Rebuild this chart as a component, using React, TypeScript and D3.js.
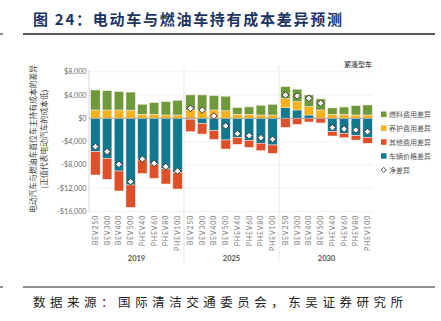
import React from "react";
import * as d3 from "d3";

const years = ["2019", "2025", "2030"];
const categories = ["BEV250", "BEV300", "BEV400", "BEV500", "PHEV40", "PHEV60", "PHEV80", "PHEV100"];

// 燃料费用差异 (green)
const fuel = [
  [3430, 3310, 3150, 3100, 1720, 1990, 2290, 2520],
  [2580, 2580, 2470, 2490, 1150, 1260, 1660, 1830],
  [1990, 2130, 2010, 1890, 1100, 1250, 1600, 1720],
];
// 养护费用差异 (orange)
const maintenance = [
  [1430, 1430, 1430, 1400, 690, 690, 570, 570],
  [1430, 1430, 1430, 1300, 690, 690, 570, 570],
  [1610, 1430, 1430, 1430, 690, 690, 570, 570],
];
// 其他费用差异 (red)
const other = [
  [-4000, -3600, -3430, -3830, -2290, -2400, -2580, -2800],
  [-2140, -1800, -1490, -1550, -1150, -1200, -1260, -1430],
  [-1550, -1030, -630, -750, -740, -750, -740, -1030],
];
// 车辆价格差异 (teal)
const vehicle = [
  [-5730, -6870, -9050, -11450, -7160, -7900, -8700, -9340],
  [-150, -900, -2120, -3720, -3320, -3780, -4290, -4580],
  [1820, 1430, 570, -50, -2300, -2580, -2990, -3260],
];
// 净差异
const net = [
  [-4870, -5730, -7900, -10880, -6990, -7730, -8300, -9050],
  [1720, 1430, 400, -1320, -2640, -2990, -3330, -3610],
  [4000, 3830, 3430, 2580, -1600, -1840, -2000, -2290],
];

const yTicks = [8000, 4000, 0, -4000, -8000, -12000, -16000];

const seriesKeys = ["vehicle", "maintenance", "other", "fuel"];
const seriesColors: Record<string, string> = {
  fuel: "#6f9a3c",
  maintenance: "#f4b21c",
  other: "#df4f2a",
  vehicle: "#11798f",
};
const legendItems = [
  { key: "fuel", label: "燃料费用差异" },
  { key: "maintenance", label: "养护费用差异" },
  { key: "other", label: "其他费用差异" },
  { key: "vehicle", label: "车辆价格差异" },
  { key: "net", label: "净差异" },
];

const W = 441;
const H = 321;
const latin = "Lato, 'Open Sans', sans-serif";
const cjk = "'Noto Sans CJK SC', sans-serif";

export default function App() {
  const rows: any[] = [];
  years.forEach((yr, gi) => {
    categories.forEach((c, ci) => {
      rows.push({
        year: yr,
        cat: c,
        fuel: fuel[gi][ci],
        maintenance: maintenance[gi][ci],
        other: other[gi][ci],
        vehicle: vehicle[gi][ci],
        net: net[gi][ci],
      });
    });
  });

  const plotLeft = 89;
  const plotRight = 374;
  const y = d3.scaleLinear().domain([-16000, 8000]).range([211.5, 71.7]);
  const xGroup = d3.scaleBand<string>().domain(years).range([plotLeft, plotRight]);
  const xInner = d3
    .scaleBand<string>()
    .domain(categories)
    .range([0, xGroup.bandwidth()])
    .paddingInner(0.2)
    .paddingOuter(0.15);

  const stack = d3
    .stack<any>()
    .keys(seriesKeys)
    .offset(d3.stackOffsetDiverging)
    .order(d3.stackOrderNone);
  const stacked = stack(rows);

  const xOf = (r: any) => (xGroup(r.year) as number) + (xInner(r.cat) as number);
  const bw = xInner.bandwidth();
  const diamondType = (d3 as any).symbolDiamond2 || d3.symbolDiamond;
  const diamond = d3.symbol().type(diamondType).size(28)() as string;
  const diamondSmall = d3.symbol().type(diamondType).size(16)() as string;
  const fmt = (v: number) => (v < 0 ? "-$" : "$") + d3.format(",")(Math.abs(v));

  return (
    <svg width={W} height={H} style={{ position: "absolute", left: 0, top: 0, background: "#fff" }}>
      {/* Title */}
      <text
        x={33}
        y={25}
        fontFamily={cjk}
        fontWeight={700}
        fontSize={15}
        fill="#1c3463"
        textLength={309}
        lengthAdjust="spacing"
      >
        图 24：电动车与燃油车持有成本差异预测
      </text>
      <line x1={23} x2={435} y1={34} y2={34} stroke="#222" strokeWidth={1.5} />
      <line x1={0} x2={3} y1={34} y2={34} stroke="#222" strokeWidth={1} />

      {/* Grid */}
      {yTicks.map((t) => (
        <line
          key={"g" + t}
          x1={plotLeft}
          x2={plotRight - 1}
          y1={y(t)}
          y2={y(t)}
          stroke="#dcdcdc"
          strokeWidth={0.7}
          strokeDasharray="1.5,1.5"
        />
      ))}
      {/* axis & separators */}
      <line x1={plotLeft} x2={plotLeft} y1={70} y2={213} stroke="#cfcfcf" strokeWidth={0.8} />
      {years.slice(1).map((yr) => (
        <line
          key={"s" + yr}
          x1={xGroup(yr)}
          x2={xGroup(yr)}
          y1={66}
          y2={262}
          stroke="#e2e2e2"
          strokeWidth={0.8}
        />
      ))}

      {/* Y tick labels */}
      {yTicks.map((t) => (
        <text
          key={"t" + t}
          x={86.5}
          y={y(t) + 2.5}
          textAnchor="end"
          fontFamily={latin}
          fontSize={7.2}
          fill="#6a6a6a"
        >
          {fmt(t)}
        </text>
      ))}

      {/* Y axis title */}
      <g transform={`translate(36,139) rotate(-90)`}>
        <text textAnchor="middle" fontFamily={cjk} fontSize={7.8} fill="#444">
          电动汽车与燃油车首位车主持有成本的差异
        </text>
        <text y={11} textAnchor="middle" fontFamily={cjk} fontSize={7.8} fill="#444">
          (正值代表电动汽车的成本低)
        </text>
      </g>

      {/* Bars */}
      {stacked.map((s) =>
        s.map((d, i) => {
          const r = rows[i];
          const y0 = y(d[0]);
          const y1 = y(d[1]);
          const h = Math.abs(y0 - y1);
          if (h < 0.05) return null;
          return (
            <rect
              key={s.key + i}
              x={xOf(r)}
              y={Math.min(y0, y1)}
              width={bw}
              height={h}
              fill={seriesColors[s.key]}
              stroke="#fbe9e4"
              strokeWidth={0.5}
            />
          );
        })
      )}

      {/* zero line */}
      <line x1={plotLeft} x2={plotRight - 1} y1={y(0)} y2={y(0)} stroke="#a0a0a0" strokeWidth={1} />

      {/* Net markers */}
      {rows.map((r, i) => (
        <path
          key={"n" + i}
          d={diamond}
          transform={`translate(${xOf(r) + bw / 2},${y(r.net)})`}
          fill="#fff"
          stroke="#3a3a3a"
          strokeWidth={1}
        />
      ))}

      {/* X labels */}
      {rows.map((r, i) => (
        <text
          key={"x" + i}
          transform={`translate(${xOf(r) + bw / 2 + 2.5},215) rotate(-90)`}
          textAnchor="end"
          fontFamily={latin}
          fontSize={7}
          letterSpacing={0.8}
          fill="#7a7a7a"
        >
          {r.cat}
        </text>
      ))}

      {/* Year labels */}
      {years.map((yr) => (
        <text
          key={"y" + yr}
          x={(xGroup(yr) as number) + xGroup.bandwidth() / 2}
          y={261}
          textAnchor="middle"
          fontFamily={latin}
          fontWeight={700}
          fontSize={7.5}
          fill="#555"
        >
          {yr}
        </text>
      ))}

      {/* Subtitle top right */}
      <text x={372} y={67} textAnchor="end" fontFamily={cjk} fontSize={7} fontWeight={500} fill="#444">
        紧凑型车
      </text>

      {/* Legend */}
      {legendItems.map((it, i) => {
        const ly = 114.3 + i * 13.9;
        return (
          <g key={it.key} transform={`translate(381,${ly})`}>
            {it.key === "net" ? (
              <path d={diamondSmall} transform="translate(2.7,0)" fill="#fff" stroke="#3a3a3a" strokeWidth={0.9} />
            ) : (
              <rect x={0} y={-2.8} width={5.5} height={5.5} fill={seriesColors[it.key]} />
            )}
            <text x={8} y={2.6} fontFamily={cjk} fontSize={7} fill="#555">
              {it.label}
            </text>
          </g>
        );
      })}

      {/* Bottom source */}
      <line x1={23} x2={435} y1={287} y2={287} stroke="#222" strokeWidth={1.2} />
      <line x1={0} x2={3} y1={287} y2={287} stroke="#222" strokeWidth={1} />
      <text
        x={33}
        y={307}
        fontFamily={cjk}
        fontSize={12.5}
        fill="#222"
        textLength={370}
        lengthAdjust="spacing"
      >
        数据来源：国际清洁交通委员会，东吴证券研究所
      </text>
    </svg>
  );
}
